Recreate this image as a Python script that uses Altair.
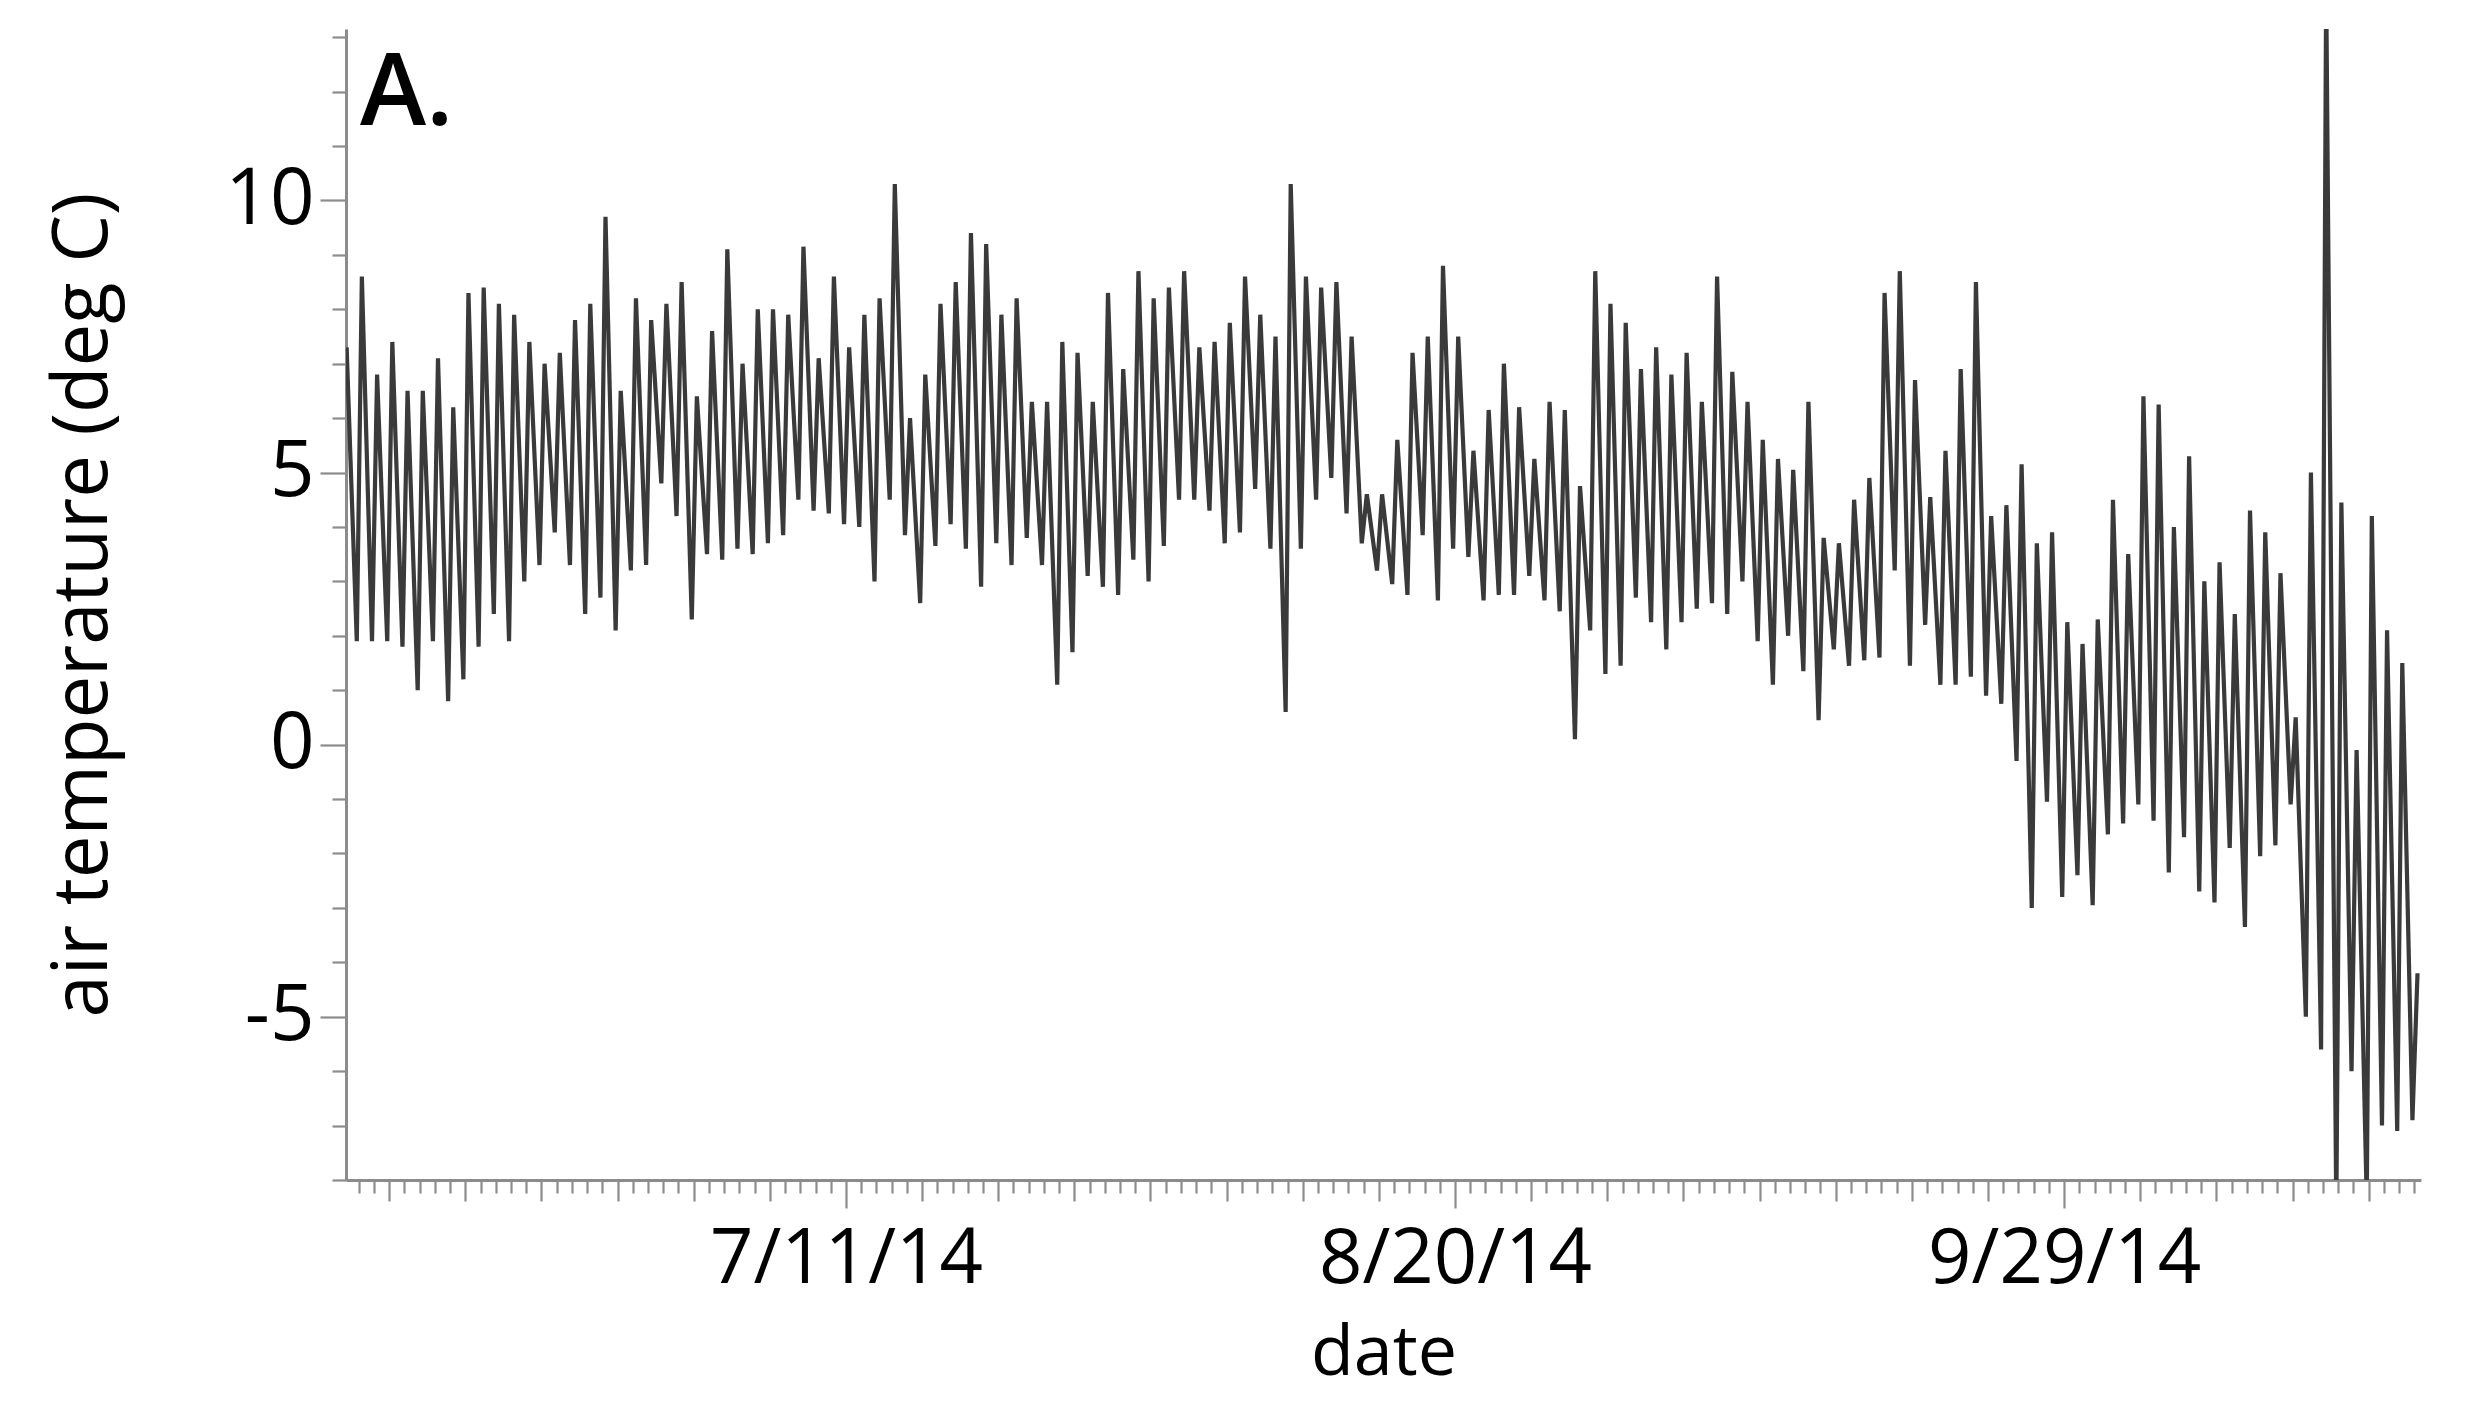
import altair as alt
import pandas as pd

# Daily maximum air temperature (deg C), one value per day starting 2014-06-08
daily_max = [
    7.3, 8.6, 6.8, 7.4, 6.5, 6.5, 7.1, 6.2, 8.3, 8.4, 8.1, 7.9, 7.4, 7.0, 7.2, 7.8, 8.1, 9.7, 6.5, 8.2,
    7.8, 8.1, 8.5, 6.4, 7.6, 9.1, 7.0, 8.0, 8.0, 7.9, 9.15, 7.1, 8.6, 7.3, 7.9, 8.2, 10.3, 6.0, 6.8, 8.1,
    8.5, 9.4, 9.2, 7.9, 8.2, 6.3, 6.3, 7.4, 7.2, 6.3, 8.3, 6.9, 8.7, 8.2, 8.4, 8.7, 7.3, 7.4, 7.75, 8.6,
    7.9, 7.5, 10.3, 8.6, 8.4, 8.5, 7.5, 4.6, 4.6, 5.6, 7.2, 7.5, 8.8, 7.5, 5.4, 6.15, 7.0, 6.2, 5.25, 6.3,
    6.15, 4.75, 8.7, 8.1, 7.75, 6.9, 7.3, 6.8, 7.2, 6.3, 8.6, 6.85, 6.3, 5.6, 5.25, 5.05, 6.3, 3.8, 3.7, 4.5,
    4.9, 8.3, 8.7, 6.7, 4.55, 5.4, 6.9, 8.5, 4.2, 4.4, 5.15, 3.7, 3.9, 2.25, 1.85, 2.3, 4.5, 3.5, 6.4, 6.25,
    4.0, 5.3, 3.0, 3.35, 2.4, 4.3, 3.9, 3.15, 0.5, 5.0, 14.0, 4.45, -0.1, 4.2, 2.1, 1.5, -4.2,
]

# Daily minimum air temperature (deg C), one value per day starting 2014-06-08
daily_min = [
    1.9, 1.9, 1.9, 1.8, 1.0, 1.9, 0.8, 1.2, 1.8, 2.4, 1.9, 3.0, 3.3, 3.9, 3.3, 2.4, 2.7, 2.1, 3.2, 3.3,
    4.8, 4.2, 2.3, 3.5, 3.4, 3.6, 3.5, 3.7, 3.85, 4.5, 4.3, 4.25, 4.05, 4.0, 3.0, 4.5, 3.85, 2.6, 3.65, 4.05,
    3.6, 2.9, 3.7, 3.3, 3.8, 3.3, 1.1, 1.7, 3.1, 2.9, 2.75, 3.4, 3.0, 3.65, 4.5, 4.5, 4.3, 3.7, 3.9, 4.7,
    3.6, 0.6, 3.6, 4.5, 4.9, 4.25, 3.7, 3.2, 2.95, 2.75, 3.85, 2.65, 3.6, 3.45, 2.65, 2.75, 2.75, 3.1, 2.65, 2.45,
    0.1, 2.1, 1.3, 1.45, 2.7, 2.25, 1.75, 2.25, 2.5, 2.6, 2.4, 3.0, 1.9, 1.1, 2.0, 1.35, 0.45, 1.75, 1.45, 1.55,
    1.6, 3.2, 1.45, 2.2, 1.1, 1.1, 1.25, 0.9, 0.75, -0.3, -3.0, -1.05, -2.8, -2.4, -2.95, -1.65, -1.45, -1.1, -1.4, -2.35,
    -1.7, -2.7, -2.9, -1.9, -3.35, -2.05, -1.85, -1.1, -5.0, -5.6, -8.6, -6.0, -8.4, -7.0, -7.1, -6.9,
]

first_day = pd.Timestamp("2014-06-08T00:00:00Z")
x_major_dates = ["7/11/14", "8/20/14", "9/29/14"]
y_tick_values = list(range(-8, 14))

rows = []
for k, v in enumerate(daily_max):
    t = first_day + pd.Timedelta(days=k, hours=5)
    rows.append({"time": t.strftime("%Y-%m-%dT%H:%M:%SZ"), "temp": v})
for k, v in enumerate(daily_min):
    t = first_day + pd.Timedelta(days=k, hours=21)
    rows.append({"time": t.strftime("%Y-%m-%dT%H:%M:%SZ"), "temp": v})
df = pd.DataFrame(rows).sort_values("time").reset_index(drop=True)


def ms(ts):
    return int(pd.Timestamp(ts).value // 10**6)


t_start = ms("2014-06-08T04:00:00Z")
t_end = ms("2014-10-22T10:30:00Z")
t_ref = ms("2014-07-11T00:00:00Z")
x_tick_values = [ms(first_day + pd.Timedelta(days=k + 1)) for k in range(136)]

FONT = "Open Sans"
FS = 78
GRAY = "#8c8c8c"

day_expr = f"((datum.value - {t_ref}) / 86400000)"

x_axis = alt.Axis(
    values=x_tick_values,
    tickSize={"expr": f"{day_expr} % 40 == 0 ? 28 : ({day_expr} % 5 == 0 ? 21 : 13)"},
    labelExpr=f"{day_expr} % 40 == 0 ? utcFormat(datum.value, '%-m/%-d/%y') : ''",
    labelFont=FONT, labelFontSize=76, labelColor="black", labelPadding=14,
    labelOverlap=False, labelFlush=False, labelLimit=0, labelBound=False,
    title="date", titleFont=FONT, titleFontSize=70, titleFontWeight="normal",
    titleColor="black", titlePadding=22,
    domainColor=GRAY, domainWidth=3, tickColor=GRAY, tickWidth=2.2, grid=False,
)

y_axis = alt.Axis(
    values=y_tick_values,
    tickSize={"expr": "datum.value % 5 == 0 ? 26 : 14"},
    labelExpr="datum.value % 5 == 0 ? '' + datum.value : ''",
    labelFont=FONT, labelFontSize=FS, labelColor="black", labelPadding=6,
    labelOverlap=False, labelFlush=False, labelLimit=0,
    title="air temperature (deg C)", titleFont=FONT, titleFontSize=76,
    titleFontWeight="normal", titleColor="black", titlePadding=102,
    domainColor=GRAY, domainWidth=3, tickColor=GRAY, tickWidth=2.2, grid=False,
)

line = alt.Chart(df).mark_line(color="#3a3a3a", strokeWidth=4.2, clip=True).encode(
    x=alt.X("time:T", scale=alt.Scale(type="utc", domain=[t_start, t_end], nice=False), axis=x_axis),
    y=alt.Y("temp:Q", scale=alt.Scale(domain=[-8, 13.15], nice=False, zero=False), axis=y_axis),
)

panel = alt.Chart(pd.DataFrame({"panel": ["A."]})).mark_text(
    align="left", baseline="alphabetic", font=FONT, fontSize=100, fontWeight=600, color="black"
).encode(x=alt.value(14), y=alt.value(96), text="panel:N")

chart = (
    alt.layer(line, panel)
    .properties(
        width=2075,
        height=1151,
        autosize=alt.AutoSizeParams(type="none"),
        padding={"left": 338, "top": 21, "right": 36, "bottom": 232},
        background="white",
    )
    .configure_view(stroke=None)
)

chart.save("out.html", embed_options={"renderer": "svg", "actions": False})
